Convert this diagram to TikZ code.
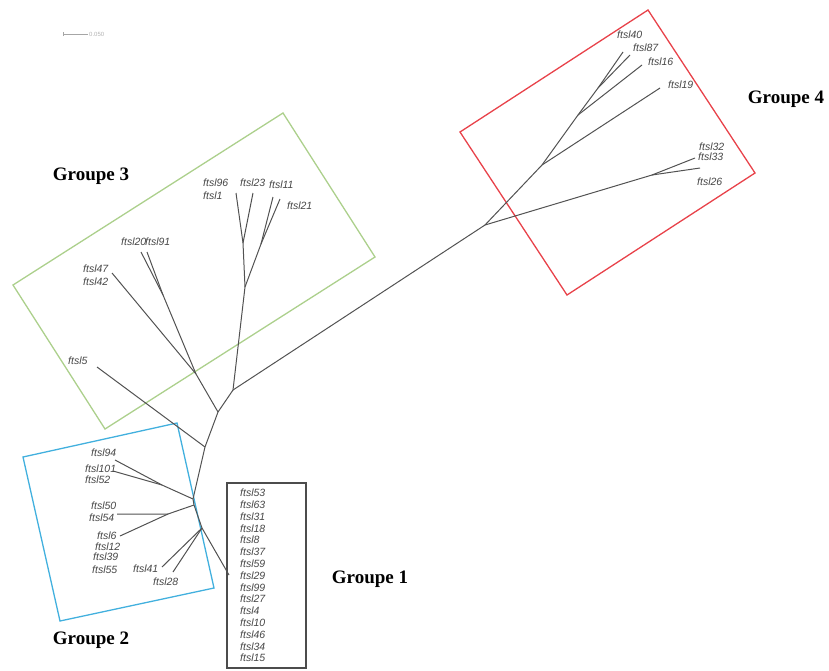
\documentclass[tikz,border=0pt]{standalone}
\usepackage{fontspec}
\setmainfont{Liberation Serif}
\newfontfamily\tipfont{Liberation Sans}
\usetikzlibrary{positioning}

\definecolor{grpgreen}{RGB}{172,208,140}
\definecolor{grpred}{RGB}{232,66,74}
\definecolor{grpblue}{RGB}{66,176,222}

\begin{document}
\begin{tikzpicture}[x=1pt, y=-1pt,
		branch/.style={draw=black!68, line width=1pt},
		tip/.style={font=\tipfont\itshape\fontsize{10.5}{11.8}\selectfont, text=black!72, inner sep=0pt, anchor=west},
		grouplabel/.style={font=\bfseries\fontsize{19}{19}\selectfont, inner sep=0pt},
		groupbox/.style={line width=1.3pt}]
		\useasboundingbox (0,0) rectangle (829,670);

		% scale bar
		\coordinate (sb1) at (63,34);
		\coordinate (sb2) at (88,34);
		\draw [black!35, line width=0.7pt] (sb1) -- (sb2);
		\draw [black!35, line width=0.7pt] ([yshift=-2pt]sb1) -- ([yshift=2pt]sb1);
		\node [font=\tipfont\fontsize{6}{6}\selectfont, text=black!30, inner sep=0pt, right=1pt of sb2] (sblabel) {0.050};

		% group frames
		\draw [groupbox, grpgreen] (13,285) -- (283,113) -- (375,257) -- (105,429) -- cycle;
		\draw [groupbox, grpred] (460,132) -- (648,10) -- (755,173) -- (567,295) -- cycle;
		\draw [groupbox, grpblue] (23,457) -- (177,423) -- (214,588) -- (60,621) -- cycle;
		\draw [groupbox, black!70] (227,483) rectangle (306,668);

		\node [grouplabel] (grp3) at (91,176) {Groupe 3};
		\node [grouplabel] (grp4) at (786,99) {Groupe 4};
		\node [grouplabel] (grp1) at (370,579) {Groupe 1};
		\node [grouplabel] (grp2) at (91,640) {Groupe 2};

		% internal nodes of the tree
		\coordinate (j2) at (193,499);
		\coordinate (j5) at (205,447);
		\coordinate (j3a) at (218,412);
		\coordinate (j3m) at (233,390);
		\coordinate (j3l) at (196,374);
		\coordinate (j2091) at (163,295);
		\coordinate (j3r) at (245,287);
		\coordinate (j9623) at (243,243);
		\coordinate (j1121) at (261,244);
		\coordinate (a4) at (485,225);
		\coordinate (b4) at (542,165);
		\coordinate (c4) at (578,115);
		\coordinate (d4) at (598,88);
		\coordinate (e4) at (652,175);
		\coordinate (j94) at (162,485);
		\coordinate (j2b) at (194,505);
		\coordinate (j50) at (168,514);
		\coordinate (j2c) at (202,528);

		% branch ends
		\coordinate (t40) at (623,52);
		\coordinate (t87) at (630,55);
		\coordinate (t16) at (642,65);
		\coordinate (t19) at (660,88);
		\coordinate (t32) at (695,158);
		\coordinate (t33) at (700,168);
		\coordinate (t96) at (236,193);
		\coordinate (t23) at (253,193);
		\coordinate (t11) at (273,197);
		\coordinate (t21) at (280,199);
		\coordinate (t20) at (141,252);
		\coordinate (t91) at (147,252);
		\coordinate (t47) at (112,273);
		\coordinate (t5) at (97,367);
		\coordinate (t94) at (115,460);
		\coordinate (t101) at (113,471);
		\coordinate (t50) at (117,514);
		\coordinate (t6) at (120,536);
		\coordinate (t41) at (162,567);
		\coordinate (t28) at (173,572);
		\coordinate (t1) at (229,575);

		% trunk
		\draw [branch] (j2) -- (j5) -- (j3a) -- (j3m) -- (a4);
		\draw [branch] (j5) -- (t5);

		% group 3
		\draw [branch] (j3a) -- (j3l) -- (t47);
		\draw [branch] (j3l) -- (j2091) -- (t20);
		\draw [branch] (j2091) -- (t91);
		\draw [branch] (j3m) -- (j3r) -- (j9623) -- (t96);
		\draw [branch] (j9623) -- (t23);
		\draw [branch] (j3r) -- (j1121) -- (t11);
		\draw [branch] (j1121) -- (t21);

		% group 4
		\draw [branch] (a4) -- (b4) -- (c4) -- (d4) -- (t40);
		\draw [branch] (d4) -- (t87);
		\draw [branch] (c4) -- (t16);
		\draw [branch] (b4) -- (t19);
		\draw [branch] (a4) -- (e4) -- (t32);
		\draw [branch] (e4) -- (t33);

		% groups 2 and 1
		\draw [branch] (j2) -- (j94) -- (t94);
		\draw [branch] (j94) -- (t101);
		\draw [branch] (j2) -- (j2b) -- (j2c);
		\draw [branch] (j2b) -- (j50) -- (t50);
		\draw [branch] (j50) -- (t6);
		\draw [branch] (j2c) -- (t41);
		\draw [branch] (j2c) -- (t28);
		\draw [branch] (j2c) -- (t1);

		% leaf names
		\node [tip] (l40) at (617,35) {ftsl40};
		\node [tip] (l87) at (633,48) {ftsl87};
		\node [tip] (l16) at (648,62) {ftsl16};
		\node [tip] (l19) at (668,85) {ftsl19};
		\node [tip] (l32) at (699,147) {ftsl32};
		\node [tip] (l33) at (698,157) {ftsl33};
		\node [tip] (l26) at (697,182) {ftsl26};

		\node [tip] (l96) at (203,183) {ftsl96};
		\node [tip] (l1) at (203,196) {ftsl1};
		\node [tip] (l23) at (240,183) {ftsl23};
		\node [tip] (l11) at (269,185) {ftsl11};
		\node [tip] (l21) at (287,206) {ftsl21};
		\node [tip] (l20) at (121,242) {ftsl20};
		\node [tip] (l91) at (145,242) {ftsl91};
		\node [tip] (l47) at (83,269) {ftsl47};
		\node [tip] (l42) at (83,282) {ftsl42};
		\node [tip] (l5) at (68,361) {ftsl5};

		\node [tip] (l94) at (91,453) {ftsl94};
		\node [tip] (l101) at (85,469) {ftsl101};
		\node [tip] (l52) at (85,480) {ftsl52};
		\node [tip] (l50) at (91,506) {ftsl50};
		\node [tip] (l54) at (89,518) {ftsl54};
		\node [tip] (l6) at (97,536) {ftsl6};
		\node [tip] (l12) at (95,547) {ftsl12};
		\node [tip] (l39) at (93,557) {ftsl39};
		\node [tip] (l55) at (92,570) {ftsl55};
		\node [tip] (l41) at (133,569) {ftsl41};
		\node [tip] (l28) at (153,582) {ftsl28};

		% group 1 list
		\foreach \n [count=\i] in {53,63,31,18,8,37,59,29,99,27,4,10,46,34,15}
			\node [tip] (l\n) at (240,{481.2+11.8*\i}) {ftsl\n};
	\end{tikzpicture}
\end{document}
